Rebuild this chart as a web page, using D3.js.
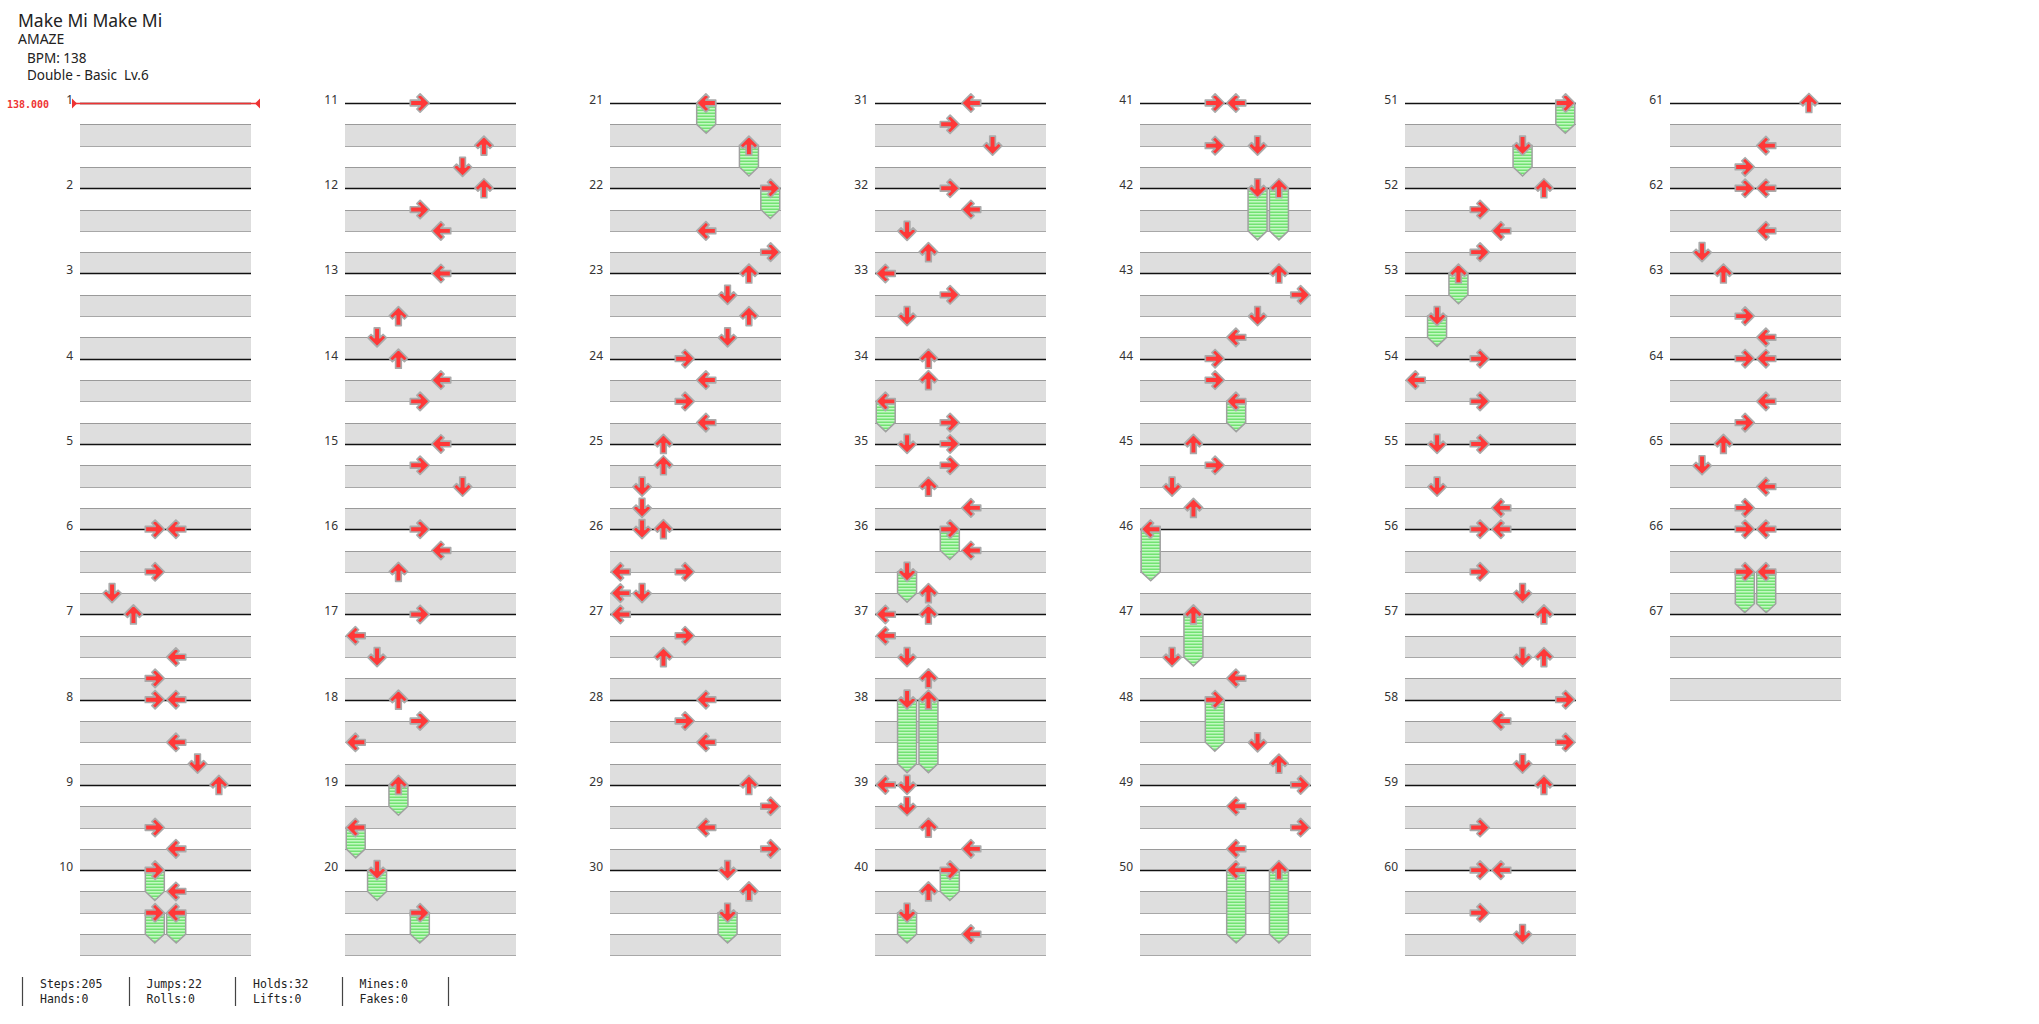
<!doctype html>
<html>
<head>
<meta charset="utf-8">
<title>Make Mi Make Mi - Double Basic</title>
<script src="https://d3js.org/d3.v7.min.js"></script>
<style>
body { margin: 0; background: #fff; }
svg text { font-family: "Noto Sans", sans-serif; }
.mono { font-family: "DejaVu Sans Mono", monospace !important; }
</style>
</head>
<body>
<script>
var songTitle = "Make Mi Make Mi";
var artist = "AMAZE";
var bpmText = "BPM: 138";
var chartText = "Double - Basic  Lv.6";
var bpmMarks = [[1, 0, "138.000"]];     // measure, beat, label
var laneDirs = ["L", "D", "U", "R", "L", "D", "U", "R"];
var totalMeasures = 67;
var measuresPerColumn = 10;

// [measure, beat, lane, hold length in beats]
var col1Notes = [
  [6,0,3],[6,0,4],[6,2,3],[6,3,1],
  [7,0,2],[7,2,4],[7,3,3],
  [8,0,3],[8,0,4],[8,2,4],[8,3,5],
  [9,0,6],[9,2,3],[9,3,4],
  [10,0,3,1],[10,1,4],[10,2,3,1],[10,2,4,1]
];
var col2Notes = [
  [11,0,3],[11,2,6],[11,3,5],
  [12,0,6],[12,1,3],[12,2,4],
  [13,0,4],[13,2,2],[13,3,1],
  [14,0,2],[14,1,4],[14,2,3],
  [15,0,4],[15,1,3],[15,2,5],
  [16,0,3],[16,1,4],[16,2,2],
  [17,0,3],[17,1,0],[17,2,1],
  [18,0,2],[18,1,3],[18,2,0],
  [19,0,2,1],[19,2,0,1],
  [20,0,1,1],[20,2,3,1]
];
var col3Notes = [
  [21,0,4,1],[21,2,6,1],
  [22,0,7,1],[22,2,4],[22,3,7],
  [23,0,6],[23,1,5],[23,2,6],[23,3,5],
  [24,0,3],[24,1,4],[24,2,3],[24,3,4],
  [25,0,2],[25,1,2],[25,2,1],[25,3,1],
  [26,0,1],[26,0,2],[26,2,0],[26,2,3],[26,3,0],[26,3,1],
  [27,0,0],[27,1,3],[27,2,2],
  [28,0,4],[28,1,3],[28,2,4],
  [29,0,6],[29,1,7],[29,2,4],[29,3,7],
  [30,0,5],[30,1,6],[30,2,5,1]
];
var col4Notes = [
  [31,0,4],[31,1,3],[31,2,5],
  [32,0,3],[32,1,4],[32,2,1],[32,3,2],
  [33,0,0],[33,1,3],[33,2,1],
  [34,0,2],[34,1,2],[34,2,0,1],[34,3,3],
  [35,0,1],[35,0,3],[35,1,3],[35,2,2],[35,3,4],
  [36,0,3,1],[36,1,4],[36,2,1,1],[36,3,2],
  [37,0,0],[37,0,2],[37,1,0],[37,2,1],[37,3,2],
  [38,0,1,3],[38,0,2,3],
  [39,0,0],[39,0,1],[39,1,1],[39,2,2],[39,3,4],
  [40,0,3,1],[40,1,2],[40,2,1,1],[40,3,4]
];
var col5Notes = [
  [41,0,3],[41,0,4],[41,2,3],[41,2,5],
  [42,0,5,2],[42,0,6,2],
  [43,0,6],[43,1,7],[43,2,5],[43,3,4],
  [44,0,3],[44,1,3],[44,2,4,1],
  [45,0,2],[45,1,3],[45,2,1],[45,3,2],
  [46,0,0,2],
  [47,0,2,2],[47,2,1],[47,3,4],
  [48,0,3,2],[48,2,5],[48,3,6],
  [49,0,7],[49,1,4],[49,2,7],[49,3,4],
  [50,0,4,3],[50,0,6,3]
];
var col6Notes = [
  [51,0,7,1],[51,2,5,1],
  [52,0,6],[52,1,3],[52,2,4],[52,3,3],
  [53,0,2,1],[53,2,1,1],
  [54,0,3],[54,1,0],[54,2,3],
  [55,0,1],[55,0,3],[55,2,1],[55,3,4],
  [56,0,3],[56,0,4],[56,2,3],[56,3,5],
  [57,0,6],[57,2,5],[57,2,6],
  [58,0,7],[58,1,4],[58,2,7],[58,3,5],
  [59,0,6],[59,2,3],
  [60,0,3],[60,0,4],[60,2,3],[60,3,5]
];
var col7Notes = [
  [61,0,6],[61,2,4],[61,3,3],
  [62,0,3],[62,0,4],[62,2,4],[62,3,1],
  [63,0,2],[63,2,3],[63,3,4],
  [64,0,3],[64,0,4],[64,2,4],[64,3,3],
  [65,0,2],[65,1,1],[65,2,4],[65,3,3],
  [66,0,3],[66,0,4],[66,2,3,1.5],[66,2,4,1.5]
];

var statRow1 = ["Steps:205", "Jumps:22", "Holds:32", "Mines:0"];
var statRow2 = ["Hands:0", "Rolls:0", "Lifts:0", "Fakes:0"];

var notes = [].concat(col1Notes, col2Notes, col3Notes, col4Notes, col5Notes, col6Notes, col7Notes);

var W = 2039, H = 1024;
var svg = d3.select("body").append("svg").attr("width", W).attr("height", H);

var defs = svg.append("defs");
var pat = defs.append("pattern").attr("id", "holdStripes")
  .attr("patternUnits", "userSpaceOnUse").attr("width", 4).attr("height", 3);
pat.append("rect").attr("width", 4).attr("height", 3).attr("fill", "#72e272");
pat.append("rect").attr("width", 4).attr("height", 1.5).attr("fill", "#c2f9c2");

// scales
var colX = d3.scaleLinear().domain([0, 1]).range([80, 345]);
var laneX = d3.scaleBand().domain(d3.range(8)).range([0, 171]);
var beatY = d3.scaleLinear().domain([0, 40]).range([103, 103 + 40 * 21.31]);
var colW = laneX.range()[1];

function pos(m, beat) {
  var c = Math.floor((m - 1) / measuresPerColumn);
  var k = (m - 1) % measuresPerColumn;
  return { c: c, b: k * 4 + beat };
}
function crisp(v) { return Math.round(v) + 0.5; }

// header
var head = svg.append("g").attr("fill", "#222");
head.append("text").attr("x", 18).attr("y", 27).attr("font-size", 17.5).text(songTitle);
head.append("text").attr("x", 18).attr("y", 44).attr("font-size", 14).text(artist);
head.append("text").attr("x", 27).attr("y", 63).attr("font-size", 13.5).text(bpmText);
head.append("text").attr("x", 27).attr("y", 80).attr("font-size", 13.5)
  .style("white-space", "pre").text(chartText);

// columns of measures
var nCols = Math.ceil(totalMeasures / measuresPerColumn);
var grid = svg.append("g");
d3.range(nCols).forEach(function(c) {
  var x0 = colX(c);
  var count = Math.min(measuresPerColumn, totalMeasures - c * measuresPerColumn);
  var g = grid.append("g");
  d3.range(count).forEach(function(k) {
    [1, 3].forEach(function(bb) {
      var y1 = crisp(beatY(k * 4 + bb)), y2 = crisp(beatY(k * 4 + bb + 1));
      g.append("rect").attr("x", x0).attr("y", y1).attr("width", colW).attr("height", y2 - y1)
        .attr("fill", "#dedede");
      g.append("line").attr("x1", x0).attr("x2", x0 + colW).attr("y1", y1).attr("y2", y1)
        .attr("stroke", "#9a9a9a").attr("stroke-width", 1.2);
      g.append("line").attr("x1", x0).attr("x2", x0 + colW).attr("y1", y2).attr("y2", y2)
        .attr("stroke", "#a8a8a8").attr("stroke-width", 1.2);
    });
  });
  d3.range(count).forEach(function(k) {
    var y = crisp(beatY(k * 4));
    g.append("line").attr("x1", x0).attr("x2", x0 + colW).attr("y1", y).attr("y2", y)
      .attr("stroke", "#111").attr("stroke-width", 1.3);
    g.append("text").attr("x", x0 - 7).attr("y", y).attr("text-anchor", "end")
      .attr("font-size", 12).attr("fill", "#333").text(c * measuresPerColumn + k + 1);
  });
});

// bpm marks
bpmMarks.forEach(function(d) {
  var p = pos(d[0], d[1]);
  var x0 = colX(p.c), y = crisp(beatY(p.b));
  svg.append("line").attr("x1", x0 - 6).attr("x2", x0 + colW + 6).attr("y1", y).attr("y2", y)
    .attr("stroke", "#e33").attr("stroke-width", 1.3);
  svg.append("path").attr("d", "M" + (x0 - 8) + "," + (y - 5) + "L" + (x0 - 3) + "," + y + "L" + (x0 - 8) + "," + (y + 5) + "Z")
    .attr("fill", "#e33");
  svg.append("path").attr("d", "M" + (x0 + colW + 9) + "," + (y - 5) + "L" + (x0 + colW + 4) + "," + y + "L" + (x0 + colW + 9) + "," + (y + 5) + "Z")
    .attr("fill", "#e33");
  svg.append("text").attr("class", "mono").attr("x", 7).attr("y", y + 4)
    .attr("font-size", 10).attr("font-weight", "bold").attr("fill", "#e33").text(d[2]);
});

// holds
var rotation = { U: 0, R: 90, D: 180, L: -90 };
var holds = notes.filter(function(d) { return d[3]; });
svg.append("g").selectAll("path").data(holds).enter().append("path")
  .attr("d", function(d) {
    var p = pos(d[0], d[1]);
    var cx = colX(p.c) + laneX(d[2]) + laneX.bandwidth() / 2;
    var y1 = beatY(p.b), y2 = beatY(p.b + d[3]);
    var hw = 9.5;
    return "M" + (cx - hw) + "," + y1 + "L" + (cx + hw) + "," + y1 + "L" + (cx + hw) + "," + y2 +
      "L" + cx + "," + (y2 + 9) + "L" + (cx - hw) + "," + y2 + "Z";
  })
  .attr("fill", "url(#holdStripes)").attr("stroke", "#a0a0a0").attr("stroke-width", 1.5);

// arrows
var arrowPath = "M0,-9.5L9.2,-0.3L6,2.9L2.8,-0.3L2.8,9.5L-2.8,9.5L-2.8,-0.3L-6,2.9L-9.2,-0.3Z";
svg.append("g").selectAll("path").data(notes).enter().append("path")
  .attr("d", arrowPath)
  .attr("transform", function(d) {
    var p = pos(d[0], d[1]);
    var cx = colX(p.c) + laneX(d[2]) + laneX.bandwidth() / 2;
    return "translate(" + cx + "," + beatY(p.b) + ") rotate(" + rotation[laneDirs[d[2]]] + ")";
  })
  .attr("fill", "#ff3838").attr("stroke", "#aaaaaa").attr("stroke-width", 1.7)
  .attr("stroke-linejoin", "round");

// footer stats
var foot = svg.append("g");
var cellX = d3.scaleLinear().domain([0, 1]).range([22, 128.5]);
d3.range(statRow1.length + 1).forEach(function(i) {
  foot.append("line").attr("x1", crisp(cellX(i))).attr("x2", crisp(cellX(i)))
    .attr("y1", 977).attr("y2", 1006).attr("stroke", "#444").attr("stroke-width", 1.2);
});
[statRow1, statRow2].forEach(function(row, r) {
  foot.selectAll(null).data(row).enter().append("text")
    .attr("class", "mono")
    .attr("x", function(d, i) { return cellX(i) + 18; })
    .attr("y", 988 + r * 15)
    .attr("font-size", 11.5).attr("fill", "#222")
    .text(function(d) { return d; });
});
</script>
</body>
</html>
